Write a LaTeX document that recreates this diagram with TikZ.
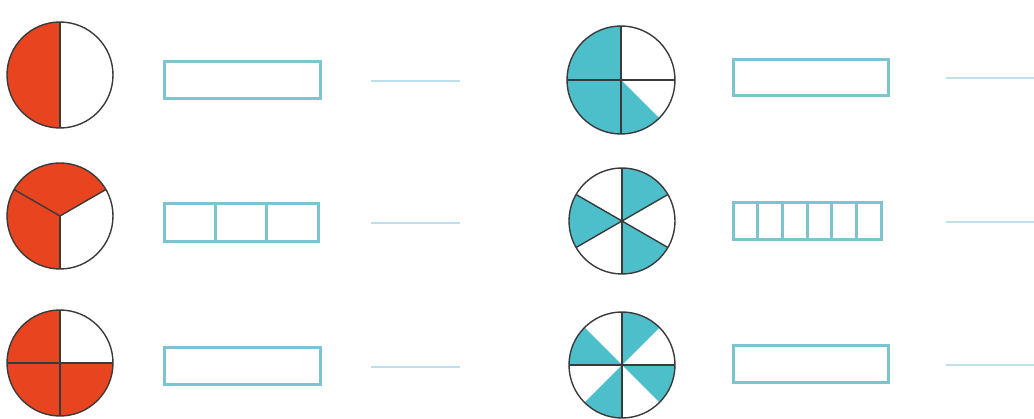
\documentclass[tikz,border=0pt]{standalone}
\usepackage{tikz}
\usetikzlibrary{calc}
\definecolor{redfill}{HTML}{E94420}
\definecolor{tealfill}{HTML}{4DBFCB}
\definecolor{boxline}{HTML}{7BC4D1}
\definecolor{ansline}{HTML}{BEDFEC}
\definecolor{rim}{HTML}{3A3A3A}
\tikzset{
  rimline/.style={draw=rim, line width=1.4pt},
  fracbox/.style={draw=boxline, line width=3pt},
  answer/.style={draw=ansline, line width=1.6pt},
}
\newcommand{\sector}[5]{% color, center, r, a1, a2
  \fill[#1] (#2) -- ++(#4:#3) arc[start angle=#4, end angle=#5, radius=#3] -- cycle;}
\begin{document}
\begin{tikzpicture}[x=1pt,y=-1pt]
\useasboundingbox (0,0) rectangle (1034,419);
\fill[white] (0,0) rectangle (1034,419);
% centres
\coordinate (c1) at (60,75);
\coordinate (c2) at (60,216);
\coordinate (c3) at (60,363);
\coordinate (c4) at (621,80);
\coordinate (c5) at (622,221);
\coordinate (c6) at (622,365);
% circle 1: half
\sector{redfill}{c1}{53}{-90}{-270}
\draw[rimline] (c1) circle[radius=53];
\draw[rimline] ($(c1)+(0,-53)$) -- ($(c1)+(0,53)$);
% circle 2: thirds (y axis flipped -> angles mirrored)
\sector{redfill}{c2}{53}{-30}{-270}
\draw[rimline] (c2) circle[radius=53];
\draw[rimline] (c2) -- ++(90:53);
\draw[rimline] (c2) -- ++(-30:53);
\draw[rimline] (c2) -- ++(-150:53);
% circle 3: quarters
\sector{redfill}{c3}{53}{-90}{-360}
\draw[rimline] (c3) circle[radius=53];
\draw[rimline] ($(c3)+(0,-53)$) -- ($(c3)+(0,53)$);
\draw[rimline] ($(c3)+(-53,0)$) -- ($(c3)+(53,0)$);
% circle 4
\sector{tealfill}{c4}{54}{-90}{-315}
\draw[rimline] (c4) circle[radius=54];
\draw[rimline] ($(c4)+(0,-54)$) -- ($(c4)+(0,54)$);
\draw[rimline] ($(c4)+(-54,0)$) -- ($(c4)+(54,0)$);
% circle 5: sixths
\sector{tealfill}{c5}{53}{-30}{-90}
\sector{tealfill}{c5}{53}{-150}{-210}
\sector{tealfill}{c5}{53}{-270}{-330}
\draw[rimline] (c5) circle[radius=53];
\draw[rimline] ($(c5)+(0,-53)$) -- ($(c5)+(0,53)$);
\draw[rimline] ($(c5)+(30:53)$) -- ($(c5)+(210:53)$);
\draw[rimline] ($(c5)+(150:53)$) -- ($(c5)+(330:53)$);
% circle 6: eighths
\sector{tealfill}{c6}{53}{-45}{-90}
\sector{tealfill}{c6}{53}{-135}{-180}
\sector{tealfill}{c6}{53}{-225}{-270}
\sector{tealfill}{c6}{53}{-315}{-360}
\draw[rimline] (c6) circle[radius=53];
\draw[rimline] ($(c6)+(0,-53)$) -- ($(c6)+(0,53)$);
\draw[rimline] ($(c6)+(-53,0)$) -- ($(c6)+(53,0)$);
% boxes left
\draw[fracbox] (164,62) rectangle (320,99);
\draw[fracbox] (164,204) rectangle (318,242);
\draw[fracbox] (215.3,204) -- (215.3,242);
\draw[fracbox] (266.7,204) -- (266.7,242);
\draw[fracbox] (164,348) rectangle (320,385);
% boxes right
\draw[fracbox] (733,60) rectangle (888,96);
\draw[fracbox] (733,203) rectangle (881,240);
\foreach \i in {1,...,5} \draw[fracbox] ({733+\i*148/6},203) -- ({733+\i*148/6},240);
\draw[fracbox] (733,346) rectangle (888,383);
% answer lines
\coordinate (l1a) at (371,81); \coordinate (l1b) at (460,81);
\coordinate (l2a) at (371,223); \coordinate (l2b) at (460,223);
\coordinate (l3a) at (371,367); \coordinate (l3b) at (460,367);
\coordinate (r1a) at (946,78); \coordinate (r1b) at (1034,78);
\coordinate (r2a) at (946,222); \coordinate (r2b) at (1034,222);
\coordinate (r3a) at (946,365); \coordinate (r3b) at (1034,365);
\draw[answer] (l1a) -- (l1b);
\draw[answer] (l2a) -- (l2b);
\draw[answer] (l3a) -- (l3b);
\draw[answer] (r1a) -- (r1b);
\draw[answer] (r2a) -- (r2b);
\draw[answer] (r3a) -- (r3b);
\end{tikzpicture}
\end{document}
